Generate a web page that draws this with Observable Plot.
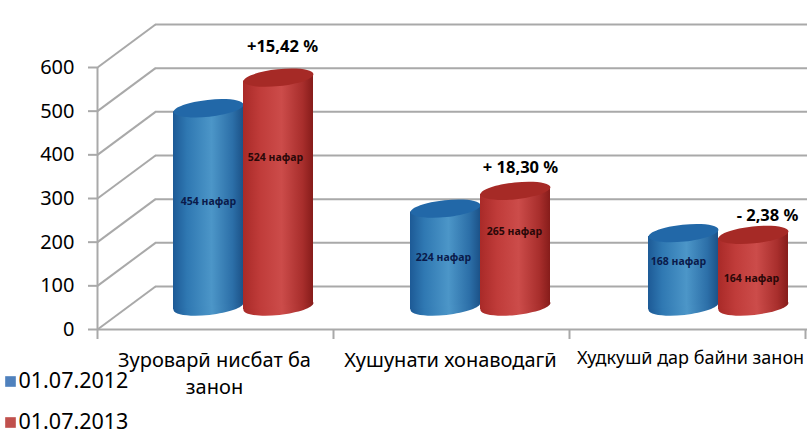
<!DOCTYPE html>
<html><head><meta charset="utf-8">
<script src="https://cdn.jsdelivr.net/npm/d3@7"></script>
<script src="https://cdn.jsdelivr.net/npm/@observablehq/plot@0.6"></script>
<style>html,body{margin:0;padding:0;background:#fff}svg{display:block}</style>
</head><body><div id="chart"></div>
<script>
const categories = ["Зуроварӣ нисбат ба","Хушунати хонаводагӣ","Худкушӣ дар байни занон"];
const categoryExtra = ["занон","",""];
const series = ["01.07.2012","01.07.2013"];
const values2012 = [454,224,168];
const values2013 = [524,265,164];
const changes = ["+15,42 %","+ 18,30 %","- 2,38 %"];
const yTicks = [0,100,200,300,400,500,600];

// layout (pixel nudges converted to data units through these factors)
const X0=97, X1=805, Y0=329, Y600=67;
const ux=3/(X1-X0), uy=600/(Y0-Y600);
const depthX=58*ux, depthY=43*uy;
const groupMid=0.5+depthX/2, barOffset=35*ux, barW=70*ux, baseY=depthY/2+1.5*uy, tilt=3.4*uy;
const groupNudge=[-1,0,2];
const lblNudgeY=[[-7.4,-36],[-1.6,-18.6],[-9.8,6.3]];
const lblNudgeX=[[0,-3],[-2,-1],[-5,-2]];
const chgNudgeY=[-31,-23.5,-19.5], chgNudgeX=[4,5,14];
const catX=[214,450,690], catY=[360,360,358], catSize=[20,20,18];
const F="'Noto Sans',sans-serif";

const rows=values2012.flatMap((v,i)=>[
  {i,s:0,v,x:i+groupMid-barOffset+groupNudge[i]*ux},
  {i,s:1,v:values2013[i],x:i+groupMid+barOffset+groupNudge[i]*ux}
]);
const ellipse={draw(c,size){
  const a=Math.sqrt(size/Math.PI), b=a*0.24, t=-6*Math.PI/180, k=0.5523;
  const P=(x,y)=>[x*Math.cos(t)-y*Math.sin(t), x*Math.sin(t)+y*Math.cos(t)];
  c.moveTo(...P(a,0));
  c.bezierCurveTo(...P(a,k*b),...P(k*a,b),...P(0,b));
  c.bezierCurveTo(...P(-k*a,b),...P(-a,k*b),...P(-a,0));
  c.bezierCurveTo(...P(-a,-k*b),...P(-k*a,-b),...P(0,-b));
  c.bezierCurveTo(...P(k*a,-b),...P(a,-k*b),...P(a,0));
  c.closePath();
}};
const grad=(id,stops)=>`<linearGradient id="${id}" x1="0" x2="1" y1="0" y2="0">${stops.map(([o,c])=>`<stop offset="${o}" stop-color="${c}"/>`).join("")}</linearGradient>`;
const defs=()=>{const g=document.createElementNS("http://www.w3.org/2000/svg","g");
 g.innerHTML=`<defs>${grad("gb",[[0,"#1d5a96"],[.2,"#2f78b2"],[.55,"#4c96c8"],[.85,"#2c6fa8"],[1,"#1c5288"]])}${grad("gr",[[0,"#a92a28"],[.25,"#c03c3a"],[.55,"#cc4c4a"],[.85,"#a82e2c"],[1,"#861c1a"]])}</defs>`;return g;};
const grid="#a9a9a9";
const cyl=(s,g,top)=>{const d=rows.filter(r=>r.s===s);
  const body=d.flatMap(r=>[-1,1].map(e=>({i:r.i,x:r.x+e*barW/2,y1:baseY+e*tilt,y2:r.v+baseY+e*tilt})));
  return [
  Plot.dot(d,{x:"x",y:()=>baseY,r:35.1,symbol:ellipse,fill:`url(#${g})`}),
  Plot.areaY(body,{x:"x",y1:"y1",y2:"y2",z:"i",fill:`url(#${g})`}),
  Plot.dot(d,{x:"x",y:r=>r.v+baseY,r:35.1,symbol:ellipse,fill:top}),
  Plot.text(d,{x:r=>r.x+lblNudgeX[r.i][s]*ux,y:r=>r.v/2+baseY-(lblNudgeY[r.i][s]+1.5)*uy,text:r=>r.v+" нафар",fontFamily:F,fontWeight:"bold",fontSize:10.5,fill:s?"#2a0808":"#0a1a4a"})
];};
const toX=px=>(px-X0)*ux, toY=px=>(Y0-px)*uy;
const chart=Plot.plot({
  width:807,height:435,marginLeft:97,marginRight:2,marginTop:67,marginBottom:106,
  style:{background:"transparent",fontFamily:F,overflow:"visible"},
  x:{type:"linear",domain:[0,3],range:[X0,X1],axis:null},
  y:{type:"linear",domain:[0,600],range:[Y0,Y600],axis:null},
  marks:[
    defs,
    Plot.ruleY(yTicks,{y:d=>d+depthY,x1:()=>depthX,x2:()=>3.05,stroke:grid,strokeWidth:2}),
    Plot.link(yTicks,{x1:()=>0,y1:d=>d,x2:()=>depthX,y2:d=>d+depthY,stroke:grid,strokeWidth:2}),
    Plot.ruleX([0],{y1:()=>0,y2:()=>600,stroke:grid,strokeWidth:2}),
    Plot.ruleY([0],{x1:()=>0,x2:()=>3.05,stroke:grid,strokeWidth:2}),
    Plot.axisY(yTicks,{anchor:"left",tickSize:9,tickPadding:14,stroke:grid,strokeWidth:2,strokeOpacity:1,fontSize:20,fill:"#000",label:null,fontFamily:F}),
    Plot.axisX([0,1,2,3],{anchor:"bottom",tickSize:10,stroke:grid,strokeWidth:2,strokeOpacity:1,tickFormat:()=>"",label:null}),
    ...cyl(0,"gb","#2268a8"),
    ...cyl(1,"gr","#a62a26"),
    Plot.text(rows.filter(r=>r.s===1),{x:r=>r.x+chgNudgeX[r.i]*ux,y:r=>r.v+baseY-chgNudgeY[r.i]*uy,text:r=>changes[r.i],fontSize:16.5,fontWeight:"bold",fill:"#000",fontFamily:F}),
    Plot.text(categories,{x:(d,i)=>toX(catX[i]),y:(d,i)=>toY(catY[i]),text:d=>d,fontSize:(d,i)=>catSize[i],fill:"#000",fontFamily:F}),
    Plot.text(categoryExtra,{x:(d,i)=>toX(catX[i]),y:(d,i)=>toY(catY[i]+27),text:d=>d,fontSize:20,fill:"#000",fontFamily:F}),
    Plot.dot(series,{x:()=>toX(10),y:(d,i)=>toY(381+i*41),symbol:"square",r:6,fill:(d,i)=>i?"#c0504d":"#4f81bd"}),
    Plot.text(series,{x:()=>toX(18),y:(d,i)=>toY(381+i*41),text:d=>d,textAnchor:"start",fontSize:21.5,fill:"#000",fontFamily:F})
  ]
});
document.getElementById("chart").append(chart);
</script></body></html>
